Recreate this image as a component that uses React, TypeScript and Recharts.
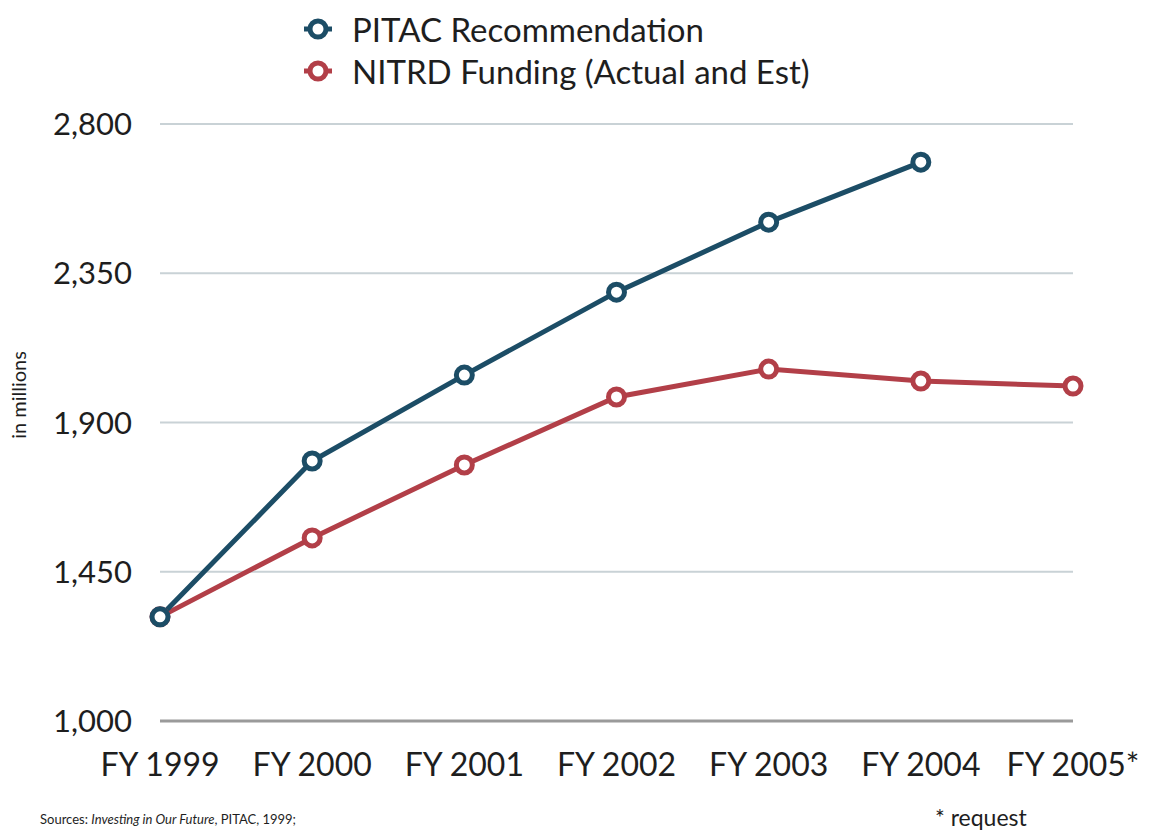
import React from "react";
import { CartesianGrid, Line, LineChart, ReferenceLine, XAxis, YAxis } from "recharts";

const years = ["FY 1999", "FY 2000", "FY 2001", "FY 2002", "FY 2003", "FY 2004", "FY 2005*"];
const pitac = [1314, 1784, 2043, 2293, 2504, 2685, null];
const nitrd = [1314, 1552, 1772, 1977, 2061, 2025, 2010];
const yTicks = [1000, 1450, 1900, 2350, 2800];

const BLUE = "#1c4d66";
const RED = "#b23f48";
const FONT = "Lato, 'Open Sans', sans-serif";

const data = years.map((year, i) => ({ year, pitac: pitac[i], nitrd: nitrd[i] }));

const legendItems = [
  { label: "PITAC Recommendation", color: BLUE },
  { label: "NITRD Funding (Actual and Est)", color: RED },
];

function LegendBox() {
  return (
    <div
      style={{
        position: "absolute",
        left: 302,
        top: 8,
        fontFamily: FONT,
        fontSize: 33,
        color: "#1e1e1e",
        lineHeight: "42px",
        whiteSpace: "nowrap",
      }}
    >
      {legendItems.map((item) => (
        <div key={item.label} style={{ display: "flex", alignItems: "center" }}>
          <svg width={32} height={24} style={{ marginRight: 18 }}>
            <line x1={2} y1={12} x2={30} y2={12} stroke={item.color} strokeWidth={5} />
            <circle cx={16} cy={12} r={8} fill="#fff" stroke={item.color} strokeWidth={5} />
          </svg>
          {item.label}
        </div>
      ))}
    </div>
  );
}

const dot = (color: string) => ({ r: 8, fill: "#fff", stroke: color, strokeWidth: 5 });

export default function App() {
  return (
    <div style={{ position: "absolute", left: 0, top: 0, width: 1149, height: 834, background: "#fff", fontFamily: FONT }}>
      <LineChart width={1149} height={834} data={data} margin={{ top: 124, right: 76, bottom: 53, left: 0 }}>
        <CartesianGrid horizontal vertical={false} stroke="#c9d2d6" strokeWidth={2} />
        <ReferenceLine y={1000} stroke="#9a9a9a" strokeWidth={3} />
        <XAxis
          dataKey="year"
          axisLine={false}
          tickLine={false}
          height={60}
          tick={{ fontSize: 32, fill: "#1e1e1e", fontFamily: FONT }}
          tickMargin={26}
          interval={0}
        />
        <YAxis
          domain={[1000, 2800]}
          ticks={yTicks}
          width={160}
          axisLine={false}
          tickLine={false}
          tickMargin={22}
          tick={{ fontSize: 31, fill: "#1e1e1e", fontFamily: FONT }}
          tickFormatter={(v: number) => v.toLocaleString("en-US")}
        />
        <Line
          dataKey="nitrd"
          stroke={RED}
          strokeWidth={5}
          dot={dot(RED)}
          activeDot={false}
          isAnimationActive={false}
        />
        <Line
          dataKey="pitac"
          stroke={BLUE}
          strokeWidth={5}
          dot={dot(BLUE)}
          activeDot={false}
          connectNulls={false}
          isAnimationActive={false}
        />
      </LineChart>
      <LegendBox />
      <div
        style={{
          position: "absolute",
          left: 18,
          top: 395,
          transform: "translate(-50%, -50%) rotate(-90deg)",
          fontSize: 20,
          color: "#1e1e1e",
          whiteSpace: "nowrap",
        }}
      >
        in millions
      </div>
      <div style={{ position: "absolute", left: 40, top: 811, fontSize: 13, color: "#1e1e1e", whiteSpace: "nowrap" }}>
        Sources: <i>Investing in Our Future</i>, PITAC, 1999;
      </div>
      <div style={{ position: "absolute", left: 935, top: 803, fontSize: 23, color: "#1e1e1e", whiteSpace: "nowrap" }}>
        * request
      </div>
    </div>
  );
}
